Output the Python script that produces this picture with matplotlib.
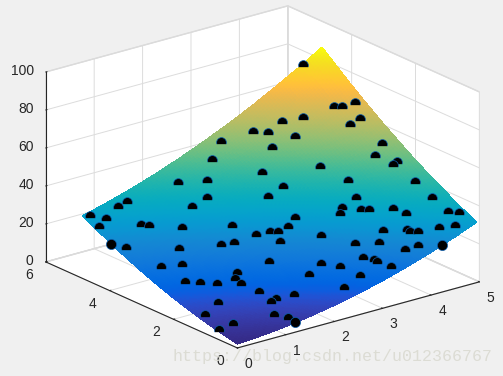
import numpy as np
import matplotlib
matplotlib.use("Agg")
from matplotlib import pyplot as plt
from matplotlib.colors import LinearSegmentedColormap
from matplotlib.path import Path
from mpl_toolkits.mplot3d import proj3d

half_x = [2.72,2.4,1.7,2.09,4.55,4.51,4.61,4.82,4.01,3.71,4.71,4.52,3.23,3.42,3.71,3.3,4.71,4.5,4.7,4.61,3.69,2.89,3.89,4.7,2.99,1.88,0.79,0.6,1.58,0.09,0.28,0.07,0.67,0.77,1.17,1.86,1.65,1.45,0.15,0.84,0.64,0.33,1.25,1.14,1.13,0.43,0.62,0.83,0.52,0.14,0.34,0.04,2.68,3.78,4.71,3.49,3.38,3.69,3.79,4.1,4.2,4.74,4.85,2.77,2.57,4.64,4.42,3.71,4.01,4.01,4.12,2.05,2.26,2.37,2.87,2.26,3.19,3.49,3.92,3.72,3.09,3.2,3.21,2.48,1.84,2.68,3.31,2.16,2.8,2.4,1.25,1.66,1.36,1.25,1.06,1.18]
half_y = [4.64,4.43,4.43,4.12,4.83,3.82,3.72,3.61,4.02,4.23,3.31,3.32,4.41,4.22,3.82,3.92,2.61,2.51,2.13,2.12,3.01,3.61,2.42,1.55,3.11,3.81,4.65,4.65,3.81,4.76,4.54,4.45,4.03,3.92,3.51,2.99,2.61,2.71,3.71,3.1,2.71,2.89,1.91,1.81,1.61,2.3,2.1,1.9,1.41,1.23,0.66,0.65,3.11,2.02,1.05,2.01,1.92,1.73,1.63,1.35,1.07,0.58,0.41,2.4,2.31,0.22,0.4,1.05,0.77,0.68,0.59,2.51,2.41,2.31,1.72,2.1,1.14,0.87,0.3,0.4,0.76,0.58,0.5,1.14,1.81,0.85,0.21,1.04,0.39,0.31,1.23,0.75,0.85,0.84,0.47,0.21]
half_z = [54.6,48.6,41.8,42.1,81,66.7,66.8,68.4,62.6,61.4,63,60.6,57.7,57.6,56.3,52.6,54.7,50.9,49.2,48,46.8,44.6,42.7,43.1,40.3,36.9,36.5,35.1,34.4,32.7,31.8,29.7,29.6,29.3,28.4,28.9,24,23.4,23.7,22.7,18.5,18.3,16.1,14.8,13.4,14.6,14.1,13.8,9.5,7.3,5.2,4.4,37.2,37.5,38.4,34.4,32.5,33.8,33.9,34.5,33,34.4,34.1,31.2,28.6,30.3,29.5,28,28.5,27.8,28.1,26.1,26.9,27,26.1,24.3,24.1,24.5,23.9,22.9,20.3,19.9,19.4,18.5,19,17.8,18.1,15.6,15.6,12.4,11.6,10.8,9.9,9.3,6.6,5.8]
full_x = [0, 4.24, 1.2]
full_y = [3.95, 0.02, 0.02]
full_z = [24.9, 24.7, 5]

x_grid = [0, .5, 1, 1.5, 2, 2.5, 3, 3.5, 4, 4.5, 4.95]
y_grid = [0, .5, 1, 1.5, 2, 2.5, 3, 3.5, 4, 4.5, 4.85]
z_rows = [
    [2, 2.9, 4.2, 6.1, 8.4, 11.2, 14.4, 18.2, 22.4, 27.1, 31.7],
    [3.8, 4.9, 6.5, 8.6, 11.2, 14.2, 17.8, 21.8, 26.2, 31.2, 36],
    [5.9, 7.3, 9.1, 11.5, 14.3, 17.6, 21.4, 25.6, 30.4, 35.6, 40.7],
    [8.3, 9.9, 12.1, 14.7, 17.8, 21.3, 25.4, 29.9, 34.9, 40.3, 45.6],
    [11, 12.9, 15.3, 18.2, 21.5, 25.4, 29.7, 34.4, 39.7, 45.4, 50.9],
    [14.1, 16.3, 18.9, 22.1, 25.7, 29.7, 34.3, 39.3, 44.8, 50.8, 56.6],
    [17.5, 19.9, 22.9, 26.2, 30.1, 34.4, 39.2, 44.5, 50.3, 56.5, 62.5],
    [21.2, 23.9, 27.1, 30.7, 34.9, 39.4, 44.5, 50.1, 56.1, 62.6, 68.8],
    [25.3, 28.3, 31.7, 35.6, 40, 44.8, 50.1, 55.9, 62.2, 68.9, 75.4],
    [29.7, 32.9, 36.6, 40.7, 45.4, 50.5, 56.1, 62.1, 68.6, 75.6, 82.4],
    [33, 36.4, 40.2, 44.6, 49.4, 54.7, 60.4, 66.6, 73.4, 80.5, 87.4],
]
x_ticks = [0, 1, 2, 3, 4, 5]
y_ticks = [0, 2, 4, 6]
z_ticks = [0, 20, 40, 60, 80, 100]

parula = [(.2081,.1663,.5292),(.2116,.1898,.5777),(.2123,.2138,.6270),(.2081,.2386,.6771),(.1959,.2645,.7279),(.1707,.2919,.7792),(.1253,.3242,.8303),(.0591,.3598,.8683),(.0117,.3875,.8820),(.0060,.4086,.8828),(.0165,.4266,.8786),(.0329,.4430,.8720),(.0498,.4586,.8641),(.0629,.4737,.8554),(.0723,.4887,.8467),(.0779,.5040,.8384),(.0793,.5200,.8312),(.0749,.5375,.8263),(.0641,.5570,.8240),(.0488,.5772,.8228),(.0343,.5966,.8199),(.0265,.6137,.8135),(.0239,.6287,.8038),(.0231,.6418,.7913),(.0228,.6535,.7768),(.0267,.6642,.7607),(.0384,.6743,.7436),(.0590,.6838,.7254),(.0843,.6928,.7062),(.1133,.7015,.6859),(.1453,.7098,.6646),(.1801,.7177,.6424),(.2178,.7250,.6193),(.2586,.7317,.5954),(.3022,.7376,.5712),(.3482,.7424,.5473),(.3953,.7459,.5244),(.4420,.7481,.5033),(.4871,.7491,.4840),(.5300,.7491,.4661),(.5709,.7485,.4494),(.6099,.7473,.4337),(.6473,.7456,.4188),(.6834,.7435,.4044),(.7184,.7411,.3905),(.7525,.7384,.3768),(.7858,.7356,.3633),(.8185,.7327,.3498),(.8507,.7299,.3360),(.8824,.7274,.3217),(.9139,.7258,.3063),(.9450,.7261,.2886),(.9739,.7314,.2666),(.9938,.7455,.2403),(.9990,.7653,.2164),(.9955,.7861,.1967),(.9880,.8066,.1794),(.9789,.8271,.1633),(.9697,.8481,.1475),(.9626,.8705,.1309),(.9589,.8949,.1132),(.9598,.9218,.0948),(.9661,.9514,.0755),(.9763,.9831,.0538)]

plt.rcParams["font.family"] = ["Liberation Sans", "DejaVu Sans"]
fig = plt.figure(figsize=(5.03, 3.76), dpi=100, facecolor="#f0f0f0")
ax = fig.add_axes([6/503, 6/376, 1, 1], projection="3d", proj_type="ortho", computed_zorder=False)
ax.patch.set_alpha(0)
ax.view_init(20.5, -127.95)
ax.set_box_aspect((.985, 1.0, .651), zoom=1.2445)

# shading between the table values, same idea as "shading interp"
fine_x = np.linspace(x_grid[0], x_grid[-1], 100)
fine_y = np.linspace(y_grid[0], y_grid[-1], 100)
z_table = np.array(z_rows)
z_cols = np.array([np.interp(fine_x, x_grid, row) for row in z_table])
z_fine = np.array([np.interp(fine_y, y_grid, col) for col in z_cols.T]).T
X, Y = np.meshgrid(fine_x, fine_y)
surf = ax.plot_surface(X, Y, z_fine, cmap=LinearSegmentedColormap.from_list("parula", parula), rstride=1, cstride=1,
                       linewidth=0, antialiased=False, shade=False, zorder=1)
surf.set_clip_on(False)

# the points sit half inside the surface, only the top of the disc shows
theta = np.radians(np.linspace(-20, 200, 40))
half_disc = Path(np.column_stack([np.cos(theta), np.sin(theta)]), closed=False)
ax.plot(half_x, half_y, half_z, ls="none", marker=half_disc, ms=7, mfc="black", mec="#0b5fb0", mew=.5, zorder=2, clip_on=False)
ax.plot(full_x, full_y, full_z, ls="none", marker="o", ms=7.3, mfc="black", mec="#0b5fb0", mew=.5, zorder=3, clip_on=False)

ax.set_xlim(0, 5, view_margin=0)
ax.set_ylim(0, 6, view_margin=0)
ax.set_zlim(0, 100, view_margin=0)
ax.set_xticks(x_ticks)
ax.set_yticks(y_ticks)
ax.set_zticks(z_ticks)
for axis in (ax.xaxis, ax.yaxis, ax.zaxis):
    axis.pane.set_facecolor("white")
    axis.pane.set_alpha(1)
    axis.pane.set_edgecolor("#d8d8d8")
    axis.line.set_color("#262626")
    axis.line.set_linewidth(.8)
    axis._axinfo["grid"].update(color="#dcdcdc", linewidth=.7)
    axis._axinfo["tick"].update(inward_factor=0, outward_factor=.06, linewidth={True: .7, False: .5}, color="#262626")
    for t in axis.get_ticklabels():
        t.set_visible(False)
    axis.label.set_visible(False)
    axis.offsetText.set_visible(False)
ax.tick_params(color="#262626")

# mplot3d tick labels won't go where matlab has them, so project the spot and use plain text
def tick_text(x, y, z, s, ha="center"):
    px, py, _ = proj3d.proj_transform(x, y, z, ax.get_proj())
    ax.text2D(px, py, s, transform=ax.transData, fontsize=10, color="#262626", ha=ha, va="center", zorder=4)

for v in x_ticks:
    tick_text(v, -.35, -5.7, str(v))
for v in y_ticks:
    tick_text(-.35, v, -4.4, str(v))
for v in z_ticks:
    tick_text(-.25, 6, v + 2.3, str(v), ha="right")

fig.text(172/503, 1 - 356/376, "https://blog.csdn.net/u012366767", family="Liberation Mono", fontsize=12,
         color="#dcdcd4", va="center", ha="left")
fig.savefig("out.png", dpi=100, facecolor=fig.get_facecolor())
